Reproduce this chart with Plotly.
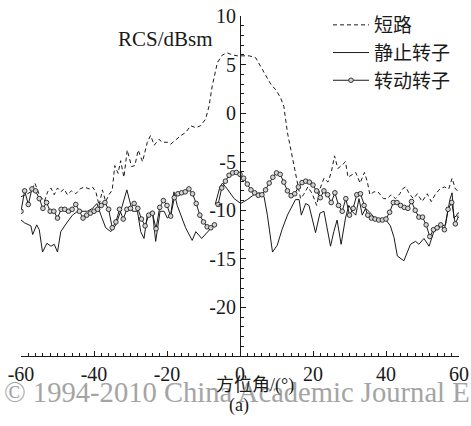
import plotly.graph_objects as go

# 短路 (short circuit) - dashed
short_x = [-60, -58.7, -57.3, -56.2, -55, -53.6, -52.7, -51.8, -50.9, -50, -49.1, -48.2, -47.3, -46.2, -45, -43.8,
           -42.7, -41.3, -40.4, -39.5, -38.6, -37.7, -36.8, -35.9, -35, -34.3, -33.4, -32.7, -31.8, -30.9, -29.7,
           -28.8, -27.9, -26.7, -25.4, -24.5, -23.5, -22.2, -21.3, -19.9, -19, -17.6, -16.2, -14.9, -13.5, -12.1,
           -10.8, -9.4, -8.5, -7.6, -7.1, -6.2, -4.8, -3.5, -2.1, -0.7, 0.6, 2.5, 4.3, 5.7, 7, 8.4, 9.8, 11.1, 12,
           12.5, 13, 13.9, 14.8, 15.7, 16.6, 17.4, 18.6, 19.8, 21, 21.9, 23, 24.1, 25, 25.9, 26.8, 27.8, 28.9, 29.6,
           30.6, 31.7, 32.9, 34.1, 34.9, 35.6, 36.7, 37.8, 39.3, 40.3, 41.4, 42.6, 43.8, 44.5, 45.4, 46.4, 47.5,
           48.6, 49.9, 51.3, 52.4, 53.6, 54.8, 56, 57.2, 58.1, 59, 60]
short_y = [-8.6, -8.4, -8.1, -7.2, -8.4, -9.1, -8.1, -7.7, -8.4, -7.7, -8.1, -7.8, -8.4, -8.0, -8.3, -7.8,
           -7.6, -7.8, -7.6, -8.1, -9.5, -7.9, -9.1, -8.4, -7.9, -5.4, -6.2, -4.9, -6.6, -3.8, -5.5,
           -5.4, -3.8, -5.0, -3.0, -2.3, -3.3, -2.7, -3.0, -3.0, -3.2, -2.7, -2.3, -2.0, -1.3, -1.5,
           -1.3, -0.6, 0.7, 2.8, 3.8, 5.2, 6.0, 6.2, 6.0, 5.9, 5.9, 5.9, 5.7, 4.8, 4.0, 3.0, 2.4, 1.6, 0.7,
           -0.6, -2.0, -3.7, -5.4, -7.1, -8.8, -8.4, -7.6, -8.3, -9.5, -7.8, -6.7, -7.1, -6.1, -4.4, -5.7, -5.4, -5.0, -6.6,
           -6.4, -6.1, -7.2, -6.1, -7.1, -8.4, -8.1, -8.1, -8.8, -8.8, -8.4, -8.8, -8.3, -7.8, -7.6, -8.3, -8.8,
           -8.3, -9.1, -8.3, -9.1, -8.3, -7.8, -7.6, -7.8, -6.7, -7.8, -8.1]

# 静止转子 (static rotor) - solid
static_x = [-60, -59, -57.3, -56.8, -55.7, -55, -54.1, -52.9, -51.8, -50.9, -50, -49.1, -47.3, -45.9, -44.5,
            -41.8, -40.4, -39.2, -38.1, -36.8, -35.4, -34, -32.7, -31, -29.5, -28.1, -27.2, -26.3, -25.4, -24,
            -23.1, -21.9, -20.8, -19.9, -19, -18.1, -17.2, -16.2, -14.9, -13.1, -12.1, -10.5, -8.9, -7.6, None,
            -6.8, -5.5, -4.8, -3.5, -1.6, 0.2, 2, 3.8, 5.4, 6.6, 7.5, 8.9, 10.2, 11.5, 13, 15.2, 16.2, 16.8, 18,
            18.9, 20.7, 21.9, 23, 24.8, 25.7, 26.6, 27.7, 28.9, 29.8, 30.7, 31.7, 32.6, 33.5, 34.4, 35.3, 36.7,
            38.5, 40, 41.2, 42.2, 43.1, 44.9, 46.7, 48.1, 49, 50.4, 51.8, 53.1, 54.9, 56.3, 57.5, 58.1, 58.6, 60]
static_y = [-11.0, -11.3, -11.6, -12.5, -11.5, -12.0, -14.3, -13.4, -13.7, -13.5, -14.3, -12.2, -11.2, -10.5, -10.1,
            -10.1, -9.8, -9.3, -10.5, -11.8, -12.2, -11.5, -10.1, -7.9, -10.1, -10.1, -12.2, -12.9, -10.5, -10.1,
            -13.2, -10.1, -10.1, -10.8, -10.5, -8.1, -9.5, -10.6, -11.8, -13.1, -12.2, -12.9, -12.2, -11.7, None,
            -9.4, -7.6, -7.2, -7.8, -8.8, -9.3, -8.9, -8.4, -8.2, -8.6, -10.5, -14.3, -13.6, -12.0, -10.5, -8.9, -8.9, -10.5, -9.3,
            -9.5, -12.3, -10.3, -10.1, -13.7, -12.2, -11.0, -13.5, -10.8, -9.5, -10.1, -10.5, -8.8, -10.5, -9.8, -10.1, -10.7,
            -11.0, -11.0, -11.6, -12.8, -14.7, -15.2, -13.5, -13.2, -13.5, -12.9, -13.7, -12.2, -11.7, -11.5, -8.9, -8.2, -10.8, -10.3]

# 转动转子 (rotating rotor) - line with circle markers
rot_x = [-60, -59, -58, -57, -56, -55, -54, -53, -52, -51, -50, -49, -48, -47, -46, -45, -44, -43, -42, -41,
         -40, -39, -38, -37, -36, -35, -34, -33, -32, -31, -30, -29, -28, -27, -26, -25, -24, -23, -22, -21,
         -20, -19, -18, -17, -16, -15, -14, -13, -12, -11, -10, -9, -8, -7, None,
         -6, -5, -4, -3, -2, -1, 0, 1, 2, 3, 4, 5, 6, 7, 8, 9, 10, 11, 12, 13, 14, 15, 16, 17, 18, 19,
         20, 21, 22, 23, 24, 25, 26, 27, 28, 29, 30, 31, 32, 33, 34, 35, 36, 37, 38, 39, 40, 41, 42, 43, 44,
         45, 46, 47, 48, 49, 50, 51, 52, 53, 54, 55, 56, 57, 58, 59, 60]
rot_y = [-10.1, -8.0, -9.4, -7.8, -8.0, -8.8, -9.8, -9.2, -10.1, -10.1, -10.8, -9.9, -9.9, -10.1, -9.9, -9.4, -10.1, -10.8, -10.5, -10.3,
         -10.1, -9.9, -9.5, -9.2, -9.9, -11.8, -11.2, -9.9, -10.9, -9.9, -9.8, -9.3, -9.8, -10.9, -11.6, -10.5, -10.3, -11.9, -9.7, -9.0,
         -9.5, -10.6, -8.7, -8.3, -8.2, -8.1, -7.8, -8.3, -9.3, -10.5, -11.2, -11.7, -11.8, -11.5, None,
         -9.4, -7.7, -7.0, -6.4, -6.15, -6.1, -6.3, -6.7, -7.3, -7.9, -8.2, -8.45, -8.4, -7.9, -7.2, -6.6, -6.15, -6.3, -7.1, -8.0, -8.5, -8.3, -7.6, -7.15, -7.0, -7.1,
         -7.4, -8.0, -8.7, -8.0, -8.4, -9.2, -8.2, -9.5, -10.1, -8.8, -10.5, -9.8, -8.4, -8.3, -9.5, -10.5, -10.8, -10.9, -11.0, -11.0, -10.9, -10.2, -9.2, -9.2, -9.5,
         -9.7, -9.8, -9.1, -10.0, -10.7, -10.7, -11.5, -12.7, -12.0, -11.8, -11.5, -12.0, -9.9, -9.2, -11.4, -10.5]

x_ticks = [-60, -40, -20, 0, 20, 40, 60]
y_ticks = [-20, -15, -10, -5, 0, 5, 10]

SERIF = "Liberation Serif"
CJK = "Noto Sans CJK SC"
INK = "#1a1a1a"
W, H = 471, 426
L, R, T, B = 21, 12, 16, 70
PW, PH = W - L - R, H - T - B


def px(xp):
    return (xp - L) / PW


def py(yp):
    return (H - B - yp) / PH


fig = go.Figure()
fig.add_trace(go.Scatter(x=short_x, y=short_y, mode="lines", name="短路", legendgroup="a",
                         line=dict(color=INK, width=1, dash="4px,3px")))
fig.add_trace(go.Scatter(x=static_x, y=static_y, mode="lines", name="静止转子", legendgroup="b",
                         line=dict(color=INK, width=1)))
fig.add_trace(go.Scatter(x=rot_x, y=rot_y, mode="lines+markers", name="转动转子", legendgroup="c",
                         line=dict(color=INK, width=1),
                         marker=dict(symbol="circle", size=4.6, color="#d4d4d4",
                                     line=dict(color="#222222", width=0.9))))

fig.update_layout(
    width=W, height=H,
    margin=dict(l=L, r=R, t=T, b=B, autoexpand=False),
    paper_bgcolor="white", plot_bgcolor="white",
    showlegend=True,
    legend=dict(xref="container", yref="container", x=328 / W, y=1 - 6 / H,
                xanchor="left", yanchor="top",
                font=dict(family=CJK, size=19, color=INK),
                bgcolor="rgba(0,0,0,0)", itemwidth=36, tracegroupgap=0),
    xaxis=dict(range=[-60, 60], tickvals=x_ticks, ticktext=[str(v) for v in x_ticks],
               showgrid=False, zeroline=False, showline=True, linecolor=INK, linewidth=1,
               ticks="inside", ticklen=5, tickcolor=INK,
               minor=dict(dtick=2, ticks="inside", ticklen=3, tickcolor=INK),
               tickfont=dict(family=SERIF, size=20, color=INK)),
    yaxis=dict(range=[-25, 10], tickvals=y_ticks, ticktext=[str(v) for v in y_ticks],
               anchor="free", position=0.5,
               showgrid=False, zeroline=False, showline=True, linecolor=INK, linewidth=1,
               ticks="inside", ticklen=5, tickcolor=INK,
               minor=dict(dtick=1, ticks="inside", ticklen=3, tickcolor=INK),
               tickfont=dict(family=SERIF, size=20, color=INK)),
    annotations=[
        dict(text="© 1994-2010 China Academic Journal E", xref="paper", yref="paper",
             x=px(2), y=py(392), xanchor="left", yanchor="middle", showarrow=False,
             font=dict(family=SERIF, size=28.6, color="#a4a4a4")),
        dict(text="RCS/dBsm", xref="paper", yref="paper", x=px(165), y=py(39),
             xanchor="center", yanchor="middle", showarrow=False,
             font=dict(family=SERIF, size=21, color=INK)),
        dict(text="<span style='font-family:Noto Sans CJK SC'>方位角</span>/(°)",
             xref="paper", yref="paper",
             x=px(255), y=py(383), xanchor="center", yanchor="middle", showarrow=False,
             font=dict(family=SERIF, size=18, color=INK)),
        dict(text="(a)", xref="paper", yref="paper", x=px(239), y=py(405),
             xanchor="center", yanchor="middle", showarrow=False,
             font=dict(family=SERIF, size=18, color=INK)),
    ],
)

fig.write_html("out.html")
